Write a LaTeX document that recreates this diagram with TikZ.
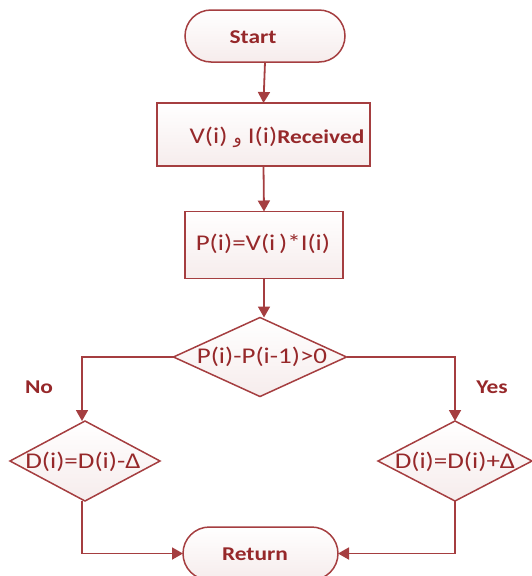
\documentclass[tikz,border=0pt]{standalone}
\usepackage{fontspec}
\setmainfont{Carlito}[FakeStretch=1.2]
\newfontfamily\arabicfont[Script=Arabic]{DejaVu Sans}
\TeXXeTstate=1
\usetikzlibrary{shapes.geometric,shapes.misc,arrows.meta}
\definecolor{lnred}{RGB}{165,62,64}
\definecolor{txred}{RGB}{150,40,42}
\definecolor{fillpink}{RGB}{246,236,236}
\tikzset{
  every node/.style={inner sep=0pt,outer sep=0pt},
  shapebox/.style={draw=lnred,line width=1.5pt,top color=white,bottom color=fillpink},
  term/.style={shapebox,rounded rectangle},
  procbox/.style={shapebox,rectangle},
  decis/.style={shapebox,diamond},
  txt/.style={text=txred,font=\fontsize{22.5}{24}\selectfont},
  btxt/.style={text=txred,font=\fontsize{19.5}{22}\selectfont\bfseries},
  conn/.style={draw=lnred,line width=1.8pt,-{Triangle[length=11pt,width=12pt]}},
}
\begin{document}
\begin{tikzpicture}[x=1pt,y=-1pt]
\useasboundingbox (0,0) rectangle (531,576);
% shapes
\node[term,minimum width=160pt,minimum height=52pt] (start) at (265,36) {};
\node[btxt] (startt) at (253,37) {Start};
\node[procbox,minimum width=213pt,minimum height=63pt] (recv) at (263.5,134.5) {};
\node[txt] (recvt) at (277,137) {V(i) {\arabicfont\fontsize{17}{20}\selectfont\beginR و\endR} I(i)\textbf{\fontsize{19.5}{22}\selectfont Received}};
\node[procbox,minimum width=158pt,minimum height=67pt] (pow) at (264,245) {};
\node[txt] (powt) at (263,244) {P(i)=V(i\,)*I(i)};
\node[decis,minimum width=173pt,minimum height=79pt] (dec) at (260,357) {};
\node[txt] (dect) at (262,357) {P(i)-P(i-1)>0};
\node[decis,minimum width=150pt,minimum height=80pt] (dl) at (85,461) {};
\node[txt] (dlt) at (83,462) {D(i)=D(i)-Δ};
\node[decis,minimum width=154pt,minimum height=80pt] (dr) at (455,461) {};
\node[txt] (drt) at (455,462) {D(i)=D(i)+Δ};
\node[term,minimum width=155pt,minimum height=53pt] (ret) at (260.5,553.5) {};
\node[btxt] (rett) at (255,554) {Return};
\node[btxt] (no) at (39,387) {No};
\node[btxt] (yes) at (492,387) {Yes};
% connectors
\draw[conn] (start.south) -- (recv.north);
\draw[conn] (recv.south) -- (pow.north);
\draw[conn] (pow.south) -- (pow.south |- dec.north);
\draw[conn] (dec.west) -| (82,0 |- dl.north);
\draw[conn] (dec.east) -| (dr.north);
\draw[conn] (dl.south -| 82,0) |- (ret.west);
\draw[conn] (dr.south) |- (ret.east);
\end{tikzpicture}
\end{document}
